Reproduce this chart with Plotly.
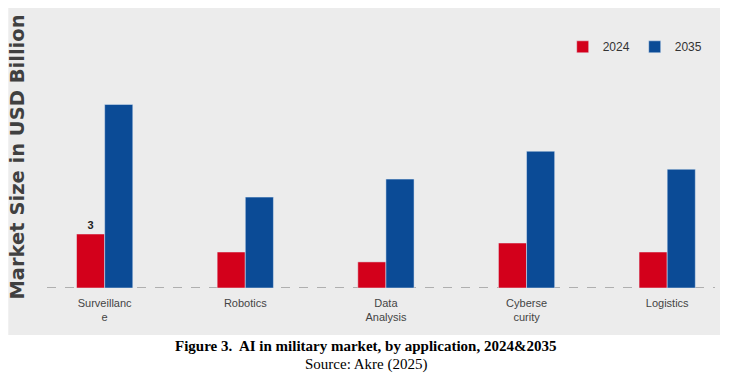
import plotly.graph_objects as go

# data (USD billion)
categories = ["Surveillanc<br>e", "Robotics", "Data<br>Analysis", "Cyberse<br>curity", "Logistics"]
values_2024 = [3.0, 2.0, 1.45, 2.5, 2.0]
values_2035 = [10.2, 5.05, 6.05, 7.6, 6.6]
labels_2024 = ["<b>3</b>", "", "", "", ""]

RED = "#d3001b"
BLUE = "#0b4b96"
NARROW = "Liberation Sans Narrow, Liberation Sans, Arial"

fig = go.Figure()
fig.add_trace(go.Bar(x=list(range(5)), y=values_2024, name="2024", marker_color=RED,
                     text=labels_2024, textposition="outside",
                     textfont=dict(family=NARROW, size=11, color="#222"),
                     cliponaxis=False))
fig.add_trace(go.Bar(x=list(range(5)), y=values_2035, name="2035", marker_color=BLUE))

# grey panel behind the chart
fig.add_shape(type="rect", xref="paper", yref="paper", x0=-0.058, x1=1.0075, y0=-0.175, y1=1.045,
              fillcolor="#ececec", line_width=0, layer="below")
# dashed baseline
fig.add_shape(type="line", xref="paper", yref="y", x0=0, x1=1, y0=0, y1=0,
              line=dict(color="#9a9a9a", width=1.5, dash="dash"), layer="below")

fig.add_annotation(text="<b>Market Size in USD Billion</b>", xref="paper", yref="paper",
                   x=-0.044, y=0.489, textangle=-90, showarrow=False, xanchor="center",
                   font=dict(family="DejaVu Sans", size=19.5, color="#404040"))
fig.add_annotation(text="<b>Figure 3.  AI in military market, by application, 2024&2035</b>",
                   xref="paper", yref="paper", x=0.477, y=-0.18, showarrow=False, yanchor="top",
                   font=dict(family="Liberation Serif", size=15, color="#000"))
fig.add_annotation(text="Source: Akre (2025)", xref="paper", yref="paper", x=0.477, y=-0.245,
                   showarrow=False, yanchor="top",
                   font=dict(family="Liberation Serif", size=15, color="#000"))

fig.update_layout(
    width=729, height=375,
    margin=dict(l=47, r=14, t=20, b=87),
    paper_bgcolor="white", plot_bgcolor="rgba(0,0,0,0)",
    barmode="group", bargap=0.6, bargroupgap=0,
    showlegend=True,
    legend=dict(orientation="h", x=0.772, y=0.9, xanchor="left", yanchor="middle",
                bgcolor="rgba(0,0,0,0)", itemwidth=30,
                font=dict(family=NARROW, size=12, color="#333")),
    xaxis=dict(tickmode="array", tickvals=list(range(5)), ticktext=categories,
               range=[-0.41, 4.34], showgrid=False, zeroline=False, showline=False, ticks="",
               ticklabelstandoff=7,
               tickfont=dict(family=NARROW, size=11, color="#444")),
    yaxis=dict(range=[0, 14.89], visible=False, showgrid=False, zeroline=False),
)

fig.write_html("out.html", config={"displayModeBar": False},
               post_script="document.body.style.margin='0';")
